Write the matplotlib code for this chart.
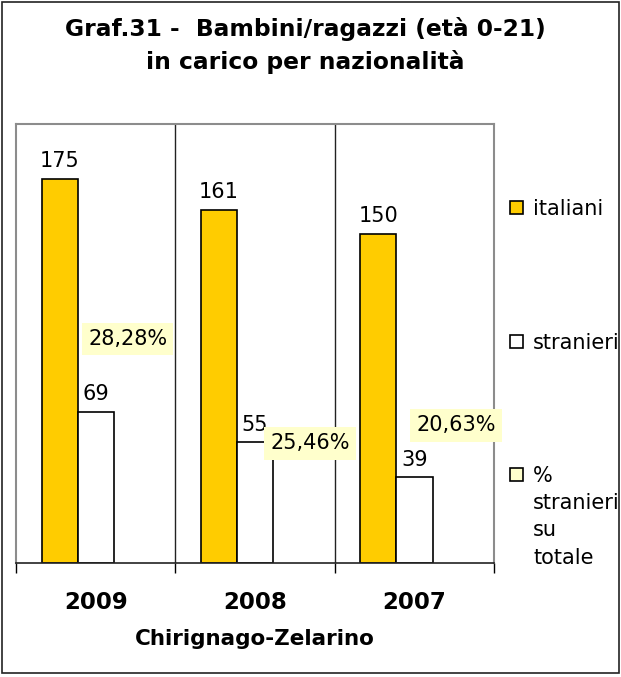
import matplotlib
matplotlib.use("Agg")
import matplotlib.pyplot as plt
from matplotlib.patches import Rectangle
from matplotlib.ticker import FixedLocator

plt.rcParams['font.family'] = ['DejaVu Sans Condensed', 'DejaVu Sans']

# data
anni = ["2009", "2008", "2007"]
italiani = [175, 161, 150]
stranieri = [69, 55, 39]
perc_label = ["28,28%", "25,46%", "20,63%"]
# where Excel put the % labels (category offset, height in axis units)
perc_dx = [0.20, 0.345, 0.26]
perc_y = [102, 54.5, 62.7]

serie = ["italiani", "stranieri", "%\nstranieri\nsu\ntotale"]
gold = "#FFCC00"
pale = "#FFFFCC"
colori = [gold, "white", pale]

fig = plt.figure(figsize=(6.21, 6.77), dpi=100)
ax = fig.add_axes([0.0258, 0.1684, 0.770, 0.6484])

x = list(range(len(anni)))
w = 0.226
ax.bar([i - w for i in x], italiani, w, color=gold, edgecolor="black", linewidth=1.2)
ax.bar(x, stranieri, w, color="white", edgecolor="black", linewidth=1.2)

for i in x:
    ax.annotate(str(italiani[i]), (i - w, italiani[i]), xytext=(0, 5.5), textcoords="offset points",
                ha="center", va="bottom", fontsize=15)
    ax.annotate(str(stranieri[i]), (i, stranieri[i]), xytext=(0, 5.5), textcoords="offset points",
                ha="center", va="bottom", fontsize=15)
    ax.text(i + perc_dx[i], perc_y[i], perc_label[i], ha="center", va="center", fontsize=15,
            bbox=dict(boxstyle="square,pad=0.3", facecolor=pale, edgecolor="none"))

ax.set_xlim(-0.5, 2.5)
ax.set_ylim(0, 200)
ax.set_yticks([])
ax.set_xticks(x)
ax.set_xticklabels(anni, fontsize=16.5, fontweight="bold")
ax.tick_params(axis="x", which="major", length=0, pad=20)
ax.xaxis.set_minor_locator(FixedLocator([-0.5, 0.5, 1.5, 2.5]))
ax.tick_params(axis="x", which="minor", length=7, width=1, color="black", direction="out")
for b in [0.5, 1.5]:
    ax.axvline(b, color="#222222", linewidth=1)

for s in ["top", "left", "right"]:
    ax.spines[s].set_color("#8c8c8c")
    ax.spines[s].set_linewidth(1.5)
ax.spines["bottom"].set_color("#222222")
ax.spines["bottom"].set_linewidth(1.2)

ax.set_xlabel("Chirignago-Zelarino", fontsize=15.5, fontweight="bold", labelpad=11)

fig.text(0.491, 0.933, "Graf.31 -  Bambini/ragazzi (età 0-21)\nin carico per nazionalità",
         ha="center", va="center", fontsize=16.8, fontweight="bold", linespacing=1.45)

# legend, drawn by hand so the marker sits on the first line of the text
leg_y = [207, 341, 474]
for nome, col, yp in zip(serie, colori, leg_y):
    yf = 1 - yp / 677
    fig.patches.append(Rectangle((510 / 621, yf - 6.5 / 677), 13 / 621, 13 / 677,
                                 transform=fig.transFigure, facecolor=col,
                                 edgecolor="black", linewidth=1.2))
    fig.text(533 / 621, yf + 8 / 677, nome, ha="left", va="top", fontsize=15, linespacing=1.45)

fig.patches.append(Rectangle((0.003, 0.006), 0.994, 0.991, transform=fig.transFigure,
                             fill=False, edgecolor="#222222", linewidth=1.2))

fig.savefig("out.png", dpi=100)
